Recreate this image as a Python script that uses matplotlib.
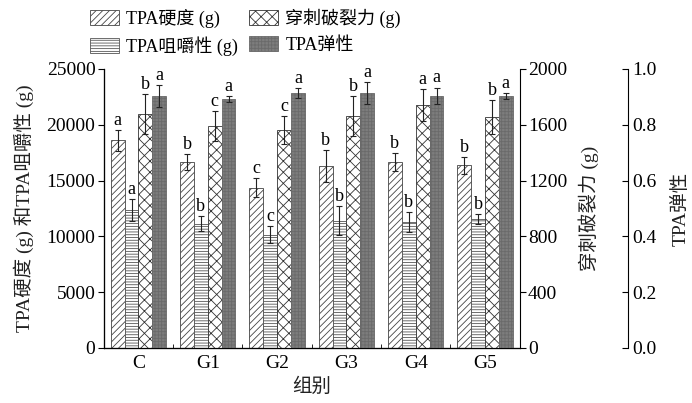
import matplotlib
matplotlib.use("Agg")
import matplotlib.pyplot as plt
import numpy as np

plt.rcParams['font.family'] = ['Liberation Serif', 'Noto Sans CJK SC']
plt.rcParams['font.size'] = 14
plt.rcParams['hatch.linewidth'] = 0.6

# groups and measured values (mean, error)
groups = ['C', 'G1', 'G2', 'G3', 'G4', 'G5']

hardness = [18600, 16650, 14350, 16300, 16650, 16350]
hardness_err = [950, 720, 850, 1430, 800, 770]
hardness_sig = ['a', 'b', 'c', 'b', 'b', 'b']

chewiness = [12350, 11150, 10150, 11400, 11250, 11550]
chewiness_err = [1000, 650, 750, 1300, 900, 450]
chewiness_sig = ['a', 'b', 'c', 'b', 'b', 'b']

puncture = [1675, 1590, 1560, 1663, 1742, 1656]
puncture_err = [145, 110, 100, 143, 112, 122]
puncture_sig = ['b', 'c', 'c', 'b', 'a', 'b']

springiness = [0.904, 0.892, 0.913, 0.913, 0.903, 0.903]
springiness_err = [0.039, 0.011, 0.018, 0.039, 0.030, 0.010]
springiness_sig = ['a', 'a', 'a', 'a', 'a', 'a']

x = np.arange(len(groups))
w = 0.2

fig = plt.figure(figsize=(6.92, 4.03), dpi=100)
ax = fig.add_axes([0.150, 0.1365, 0.601, 0.6925])
ax2 = ax.twinx()
ax3 = ax.twinx()
ax3.spines['right'].set_position(('axes', 1.26))

err_kw = dict(ecolor='#222222', elinewidth=0.8, capsize=2.5, capthick=0.8)

b1 = ax.bar(x - 1.5 * w, hardness, w, yerr=hardness_err, color='white',
            edgecolor='#444444', hatch='/////', linewidth=0.6, error_kw=err_kw,
            label='TPA硬度 (g)')
b2 = ax.bar(x - 0.5 * w, chewiness, w, yerr=chewiness_err, color='white',
            edgecolor='#555555', hatch='------', linewidth=0.6, error_kw=err_kw,
            label='TPA咀嚼性 (g)')
b3 = ax2.bar(x + 0.5 * w, puncture, w, yerr=puncture_err, color='white',
             edgecolor='#333333', hatch='xxx', linewidth=0.6, error_kw=err_kw,
             label='穿刺破裂力 (g)')
b4 = ax3.bar(x + 1.5 * w, springiness, w, yerr=springiness_err, color='#7d7d7d',
             edgecolor='#6a6a6a', hatch='+++++', linewidth=0.6, error_kw=err_kw,
             label='TPA弹性')

# significance letters above the error bars
def put_letters(axis, xs, vals, errs, sigs, pad):
    for xi, v, e, s in zip(xs, vals, errs, sigs):
        axis.text(xi, v + e + pad, s, ha='center', va='bottom', fontsize=13)

put_letters(ax, x - 1.5 * w, hardness, hardness_err, hardness_sig, 100)
put_letters(ax, x - 0.5 * w, chewiness, chewiness_err, chewiness_sig, 100)
put_letters(ax2, x + 0.5 * w, puncture, puncture_err, puncture_sig, 8)
put_letters(ax3, x + 1.5 * w, springiness, springiness_err, springiness_sig, 0.004)

ax.set_xlim(-0.5, 5.5)
ax.set_ylim(0, 25000)
ax2.set_ylim(0, 2000)
ax3.set_ylim(0, 1.0)

ax.set_xticks(x)
ax.set_xticklabels(groups)
ax.set_xticks(np.arange(0.5, 5.5, 1), minor=True)
ax.tick_params(axis='x', which='major', length=0, pad=5)
ax.tick_params(axis='x', which='minor', direction='in', length=3)
ax.set_yticks(np.arange(0, 25001, 5000))
ax.tick_params(axis='y', direction='out', length=4, pad=2)
ax2.set_yticks(np.arange(0, 2001, 400))
ax2.tick_params(axis='y', direction='out', length=4, pad=2)
ax3.set_yticks(np.arange(0, 1.01, 0.2))
ax3.set_yticklabels([f'{v:.1f}' for v in np.arange(0, 1.01, 0.2)])
ax3.tick_params(axis='y', direction='in', length=4, pad=3)

for a in (ax, ax2, ax3):
    a.spines['top'].set_visible(False)
ax.spines['right'].set_visible(False)

lab_kw = dict(fontsize=14, color='#222222')
ax.set_xlabel('组别', labelpad=4, **lab_kw)
ax.set_ylabel('TPA硬度 (g) 和TPA咀嚼性 (g)', labelpad=9, **lab_kw)
ax2.set_ylabel('穿刺破裂力 (g)', labelpad=8, **lab_kw)
ax3.set_ylabel('TPA弹性', labelpad=11, **lab_kw)

fig.legend(handles=[b1, b2, b3, b4], ncol=2, frameon=False,
           loc='upper left', bbox_to_anchor=(0.107, 1.02),
           handlelength=1.6, handleheight=0.9, columnspacing=0.6,
           labelspacing=0.45, handletextpad=0.4, fontsize=13)

fig.savefig('out.png', dpi=100)
